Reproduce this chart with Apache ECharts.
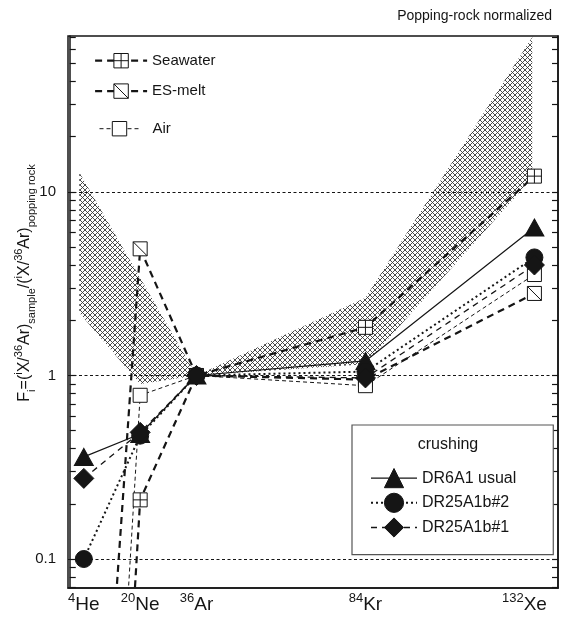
<!DOCTYPE html>
<html><head><meta charset="utf-8">
<script src="https://cdn.jsdelivr.net/npm/echarts@6/dist/echarts.min.js"></script>
<style>html,body{margin:0;padding:0;background:#fff}#c{width:563px;height:617px}</style>
</head><body><div id="c"></div>
<script>
// ---- data ----
const elements = ['He', 'Ne', 'Ar', 'Kr', 'Xe'];
const massNumbers = [4, 20, 36, 84, 132];
const dr6a1Usual = [0.36, 0.48, 1, 1.2, 6.4];
const dr25a1b2 = [0.1, 0.47, 1, 1.05, 4.4];
const dr25a1b1 = [0.275, 0.49, 1, 0.97, 4.0];
const seawater = [1.4e-6, 0.21, 1, 1.83, 12.2];
const esMelt = [1.8e-4, 4.9, 1, 0.95, 2.8];
const air = [6.6e-6, 0.78, 1, 0.88, 3.55];
const bandUpper = [[2.7, 12.8], [36, 1], [84, 2.65], [131.4, 70]];
const bandLower = [[2.7, 2.2], [20, 0.9], [36, 1], [84, 1.15], [131.4, 11.9]];
const majorTicks = [0.1, 1, 10];
const allTicks = [0.07, 0.08, 0.09, 0.1, 0.2, 0.3, 0.4, 0.5, 0.6, 0.7, 0.8, 0.9, 1, 2, 3, 4, 5, 6, 7, 8, 9, 10, 20, 30, 40, 50, 60, 70];

const FONT = 'Liberation Sans, Arial, Helvetica, sans-serif';
const INK = '#151515';

function hatchCanvas() {
  const s = 5, c = document.createElement('canvas');
  c.width = s; c.height = s;
  const g = c.getContext('2d');
  g.strokeStyle = '#383838'; g.lineWidth = 0.9;
  g.beginPath();
  g.moveTo(0, 0); g.lineTo(s, s);
  g.moveTo(0, s); g.lineTo(s, 0);
  g.stroke();
  return c;
}
const hatch = hatchCanvas();

const SYM_PLUS = 'path://M0,0H10V10H0Z M5,0V10 M0,5H10';
const SYM_DIAG = 'path://M0,0H10V10H0Z M0,0L10,10';

function pts(vals) { return massNumbers.map((m, i) => [m, vals[i]]); }
function lineSeries(name, vals, symbol, size, lineStyle, fill, z) {
  return {
    name, type: 'line', data: pts(vals), symbol, symbolSize: size,
    lineStyle: Object.assign({ color: INK }, lineStyle),
    itemStyle: { color: fill, borderColor: INK, borderWidth: 1 },
    z, clip: true, silent: true, emphasis: { disabled: true }, animation: false
  };
}

const SW_LINE = { width: 2.2, type: [7, 5] };
const ES_LINE = { width: 2.2, type: [7, 5] };
const AIR_LINE = { width: 1, type: [4, 3] };
const D6_LINE = { width: 1.2, type: 'solid' };
const D2_LINE = { width: 2, type: [2, 3] };
const D1_LINE = { width: 1.3, type: [6, 5] };

const chart = echarts.init(document.getElementById('c'), null, { renderer: 'canvas' });

const series = [
  {
    type: 'custom', name: 'band', silent: true, z: 1, clip: true,
    data: [[36, 1]],
    renderItem: (params, api) => {
      const poly = bandUpper.map(p => api.coord(p)).concat(bandLower.slice().reverse().map(p => api.coord(p)));
      return { type: 'polygon', shape: { points: poly }, style: { fill: { image: hatch, repeat: 'repeat' }, stroke: null } };
    },
    markLine: {
      silent: true, symbol: ['none', 'none'], label: { show: false }, animation: false,
      lineStyle: { color: INK, type: [3, 2.5], width: 1.1 },
      data: majorTicks.map(v => ({ yAxis: v }))
    }
  },
  lineSeries('Seawater', seawater, SYM_PLUS, 14, SW_LINE, '#fff', 3),
  lineSeries('ES-melt', esMelt, SYM_DIAG, 14, ES_LINE, '#fff', 3),
  lineSeries('Air', air, 'rect', 14, AIR_LINE, '#fff', 3),
  lineSeries('DR6A1 usual', dr6a1Usual, 'triangle', [19, 17], D6_LINE, INK, 5),
  lineSeries('DR25A1b#2', dr25a1b2, 'circle', 17, D2_LINE, INK, 5),
  lineSeries('DR25A1b#1', dr25a1b1, 'diamond', 20, D1_LINE, INK, 5)
];

function legendItem(name, lineStyle, fill) {
  return { name, lineStyle: Object.assign({ color: INK }, lineStyle), itemStyle: { color: fill, borderColor: INK, borderWidth: 1 } };
}

const yAxisCommon = {
  type: 'log', logBase: 10, min: 0.0695, max: 70.8,
  splitLine: { show: false },
  axisLine: { show: true, lineStyle: { color: INK, width: 1.5 } },
  axisTick: { show: true, inside: true, length: 6, customValues: allTicks, lineStyle: { color: INK, width: 1.2 } }
};

chart.setOption({
  animation: false,
  backgroundColor: '#fff',
  textStyle: { fontFamily: FONT },
  title: {
    text: 'Popping-rock normalized', right: 6, top: 4,
    textStyle: { fontSize: 14, fontWeight: 'normal', color: INK, fontFamily: FONT }
  },
  grid: {
    left: 68, right: 5, top: 36, bottom: 29, show: true,
    borderColor: INK, borderWidth: 1.5, backgroundColor: 'transparent',
    outerBoundsMode: 'none', containLabel: false
  },
  xAxis: {
    type: 'value', min: -0.5, max: 138.7,
    axisLine: { show: true, lineStyle: { color: INK, width: 1.5 } },
    axisTick: { show: false }, splitLine: { show: false },
    axisLabel: {
      customValues: massNumbers, margin: 4, color: INK,
      formatter: v => {
        const i = massNumbers.indexOf(Math.round(v));
        const tail = i === massNumbers.length - 1 ? '{g|}' : '';
        return '{s|' + massNumbers[i] + '}{e|' + elements[i] + '}' + tail;
      },
      rich: {
        s: { fontSize: 13, lineHeight: 13, verticalAlign: 'top', color: INK, fontFamily: FONT },
        e: { fontSize: 19, lineHeight: 25, color: INK, fontFamily: FONT },
        g: { width: 20, fontSize: 19, lineHeight: 25 }
      }
    }
  },
  yAxis: [
    Object.assign({}, yAxisCommon, {
      position: 'left',
      axisLabel: { customValues: majorTicks, margin: 12, fontSize: 15, color: INK, fontFamily: FONT, formatter: v => String(+(+v).toPrecision(3)) }
    }),
    Object.assign({}, yAxisCommon, { position: 'right', axisLabel: { show: false } })
  ],
  legend: [
    {
      orient: 'vertical', left: 94, top: 53, itemGap: 15, itemWidth: 52, itemHeight: 18,
      selectedMode: false, padding: 0,
      textStyle: { fontSize: 15, color: INK, fontFamily: FONT },
      data: [legendItem('Seawater', SW_LINE, '#fff'), legendItem('ES-melt', ES_LINE, '#fff')]
    },
    {
      orient: 'vertical', left: 99, top: 121, itemWidth: 40, itemHeight: 18,
      selectedMode: false, padding: 0,
      textStyle: { fontSize: 15, color: INK, fontFamily: FONT, padding: [0, 0, 0, 8] },
      data: [legendItem('Air', AIR_LINE, '#fff')]
    },
    {
      orient: 'vertical', left: 352, top: 425, itemGap: 4.5, itemWidth: 46, itemHeight: 24,
      selectedMode: false, padding: [43, 37, 17, 18],
      borderColor: '#555', borderWidth: 1.2, backgroundColor: '#fff',
      textStyle: { fontSize: 16, color: INK, fontFamily: FONT },
      data: [legendItem('DR6A1 usual', D6_LINE, INK), legendItem('DR25A1b#2', D2_LINE, INK), legendItem('DR25A1b#1', D1_LINE, INK)]
    }
  ],
  graphic: [
    {
      type: 'text', x: 448, y: 445, z: 100,
      style: { text: 'crushing', fontSize: 16, fontFamily: FONT, fill: INK, align: 'center', verticalAlign: 'middle' }
    },
    {
      type: 'text', x: 25, y: 283, rotation: Math.PI / 2,
      style: {
        text: '{m|F}{b|i}{m|=(}{t|i}{m|X/}{t|36}{m|Ar)}{b|sample}{m|/(}{t|i}{m|X/}{t|36}{m|Ar)}{b|popping rock}',
        align: 'center', verticalAlign: 'middle', fill: INK, fontFamily: FONT,
        rich: {
          m: { fontSize: 16, lineHeight: 24, fontFamily: FONT, fill: INK },
          t: { fontSize: 11, lineHeight: 12, verticalAlign: 'top', fontFamily: FONT, fill: INK },
          b: { fontSize: 11, lineHeight: 12, verticalAlign: 'bottom', fontFamily: FONT, fill: INK }
        }
      }
    }
  ],
  series
});
</script>
</body></html>
